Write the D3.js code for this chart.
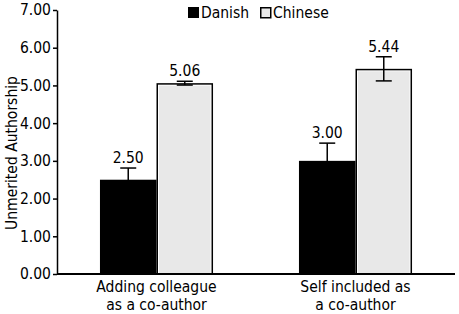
<!DOCTYPE html>
<html><head><meta charset="utf-8">
<script src="https://cdn.jsdelivr.net/npm/d3@7"></script>
<style>
body{margin:0;background:#fff;}
text{font-family:"DejaVu Sans Condensed","Liberation Sans Narrow",sans-serif;fill:#000;}
</style></head>
<body><svg id="c" width="459" height="314"></svg>
<script>
const categories = [["Adding colleague","as a co-author"],["Self included as","a co-author"]];
const series = ["Danish","Chinese"];
const danishValues = [2.50, 3.00];
const chineseValues = [5.06, 5.44];
const danishErr = [0.31, 0.47];
const chineseErr = [0.05, 0.32];
const yTicks = [0,1,2,3,4,5,6,7];
const yTitle = "Unmerited Authorship";

const FS = 15.5;
const svg = d3.select("#c");
const m = {left:57, right:4, top:10, bottom:40};
const W = 459, H = 314;
const x0 = d3.scaleBand().domain([0,1]).range([m.left, W-m.right]).paddingInner(0).paddingOuter(0);
const x1 = d3.scaleBand().domain(series).range([0, x0.bandwidth()]).paddingInner(0).paddingOuter(0.76);
const y = d3.scaleLinear().domain([0,7]).range([274, 10]);

const data = [0,1].map(i => ({i, vals:[
  {s:"Danish", v:danishValues[i], e:danishErr[i]},
  {s:"Chinese", v:chineseValues[i], e:chineseErr[i]}]}));

const g = svg.selectAll("g.grp").data(data).enter().append("g")
  .attr("transform", d => `translate(${x0(d.i)},0)`);

g.each(function(d){
  const gg = d3.select(this);
  d.vals.forEach(b => {
    const bx = x1(b.s), bw = x1.bandwidth();
    if (b.s === "Danish") {
      gg.append("rect").attr("x", bx).attr("y", y(b.v)).attr("width", bw).attr("height", y(0)-y(b.v))
        .attr("fill", "#000");
    } else {
      gg.append("rect").attr("x", bx+0.75).attr("y", y(b.v)+0.75).attr("width", bw-1.5).attr("height", y(0)-y(b.v)-0.75)
        .attr("fill", "#fff").attr("stroke", "#000").attr("stroke-width", 1.5);
      gg.append("rect").attr("x", bx+2.5).attr("y", y(b.v)+2.5).attr("width", bw-5).attr("height", y(0)-y(b.v)-2.5)
        .attr("fill", "#e8e8e8");
    }
    const cx = bx + bw/2;
    gg.append("line").attr("x1", cx).attr("x2", cx).attr("y1", y(b.v+b.e)).attr("y2", y(b.v-b.e))
      .attr("stroke", "#000").attr("stroke-width", 1.5);
    [b.v+b.e, b.v-b.e].forEach(t => gg.append("line").attr("x1", cx-8).attr("x2", cx+8)
      .attr("y1", y(t)).attr("y2", y(t)).attr("stroke", "#000").attr("stroke-width", 1.5));
    gg.append("text").attr("x", cx).attr("y", y(b.v+b.e)-5).attr("text-anchor","middle")
      .attr("font-size", FS).text(b.v.toFixed(2));
  });
});

// y axis
const ya = svg.append("g").attr("transform", `translate(${m.left},0)`)
  .call(d3.axisLeft(y).tickValues(yTicks).tickFormat(d => d.toFixed(2)).tickSize(4).tickSizeOuter(0).tickPadding(2));
ya.select(".domain").attr("stroke-width", 1.5);
ya.selectAll(".tick line").attr("stroke-width", 1.5);
ya.selectAll(".tick text").attr("font-size", FS).style("font-family", null).attr("fill", "#000");
ya.attr("font-family", null);

// x axis line
svg.append("line").attr("x1", m.left).attr("x2", W-m.right).attr("y1", y(0)).attr("y2", y(0))
  .attr("stroke", "#000").attr("stroke-width", 2);

// category labels
categories.forEach((c, i) => {
  const t = svg.append("text").attr("text-anchor","middle").attr("font-size", FS);
  c.forEach((line, k) => t.append("tspan").attr("x", x0(i)+x0.bandwidth()/2).attr("y", 292 + k*18).text(line));
});

// y title
svg.append("text").attr("transform", "translate(17,153) rotate(-90)").attr("text-anchor","middle")
  .attr("font-size", FS).text(yTitle);

// legend
const legX = [188, 260];
series.forEach((s, i) => {
  if (s === "Danish") {
    svg.append("rect").attr("x", legX[i]).attr("y", 7).attr("width", 11).attr("height", 11).attr("fill", "#000");
  } else {
    svg.append("rect").attr("x", legX[i]+0.75).attr("y", 7.75).attr("width", 10).attr("height", 10)
      .attr("fill", "#e8e8e8").attr("stroke", "#000").attr("stroke-width", 1.5);
  }
  svg.append("text").attr("x", legX[i]+13).attr("y", 18).attr("font-size", FS).text(s);
});
</script></body></html>
